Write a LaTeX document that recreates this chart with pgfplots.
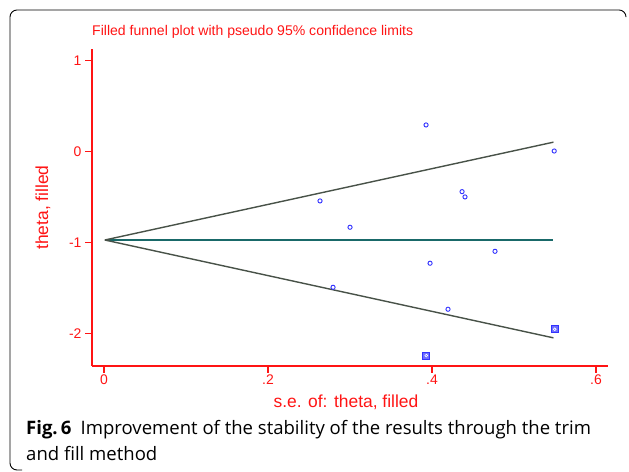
\documentclass[border=0pt]{standalone}
\usepackage{pgfplots}
\pgfplotsset{compat=1.18}
\usepackage{fontspec}
\setmainfont{Liberation Sans}
\newfontfamily\capfont{Open Sans}
\definecolor{sred}{RGB}{255,20,20}
\definecolor{sblue}{RGB}{50,50,255}
\definecolor{sfill}{RGB}{110,110,255}
\definecolor{funnel}{RGB}{72,82,72}
\definecolor{teal2}{RGB}{25,105,105}
\begin{document}
\begin{tikzpicture}[x=1bp,y=1bp]
\useasboundingbox (0,0) rectangle (629,472);
\draw[black, line width=0.9bp, rounded corners=7bp] (22,2) -- (10,2) -- (10,462) -- (626,462) -- (626,455);
\node[anchor=west, inner sep=0, text=sred, font=\fontsize{14.1}{14}\selectfont] at (92,440) {Filled funnel plot with pseudo 95\% confidence limits};
\begin{axis}[
  at={(92bp,106bp)}, anchor=south west,
  scale only axis, width=516bp, height=317bp,
  xmin=-0.01463, xmax=0.6146, ymin=-2.355, ymax=1.125,
  axis x line=bottom, axis y line=left,
  axis line style={-, sred, line width=1.1bp},
  tick align=outside, major tick length=7bp,
  tick style={sred, line width=1.1bp},
  xtick={0,0.2,0.4,0.6}, xticklabels={0,.2,.4,.6},
  ytick={-2,-1,0,1}, yticklabels={-2,-1,0,1},
  ticklabel style={text=sred, font=\fontsize{14}{14}\selectfont},
  xticklabel style={yshift=1.5bp},
  xlabel={s.e. of: theta, filled}, ylabel={theta, filled},
  every axis x label/.style={at={(axis description cs:0.4922,-0.1136)}, anchor=center, text=sred, font=\fontsize{17.5}{17.5}\selectfont},
  every axis y label/.style={at={(axis description cs:-0.0950,0.5)}, rotate=90, anchor=center, text=sred, font=\fontsize{17.5}{17.5}\selectfont},
  clip=false,
]
\addplot[teal2, line width=1.7bp] coordinates {(0.001,-0.972) (0.548,-0.972)};
\addplot[funnel, line width=1.4bp] coordinates {(0.001,-0.972) (0.548,0.102)};
\addplot[funnel, line width=1.4bp] coordinates {(0.001,-0.972) (0.548,-2.046)};
\addplot[only marks, mark=o, mark size=2.1bp, sblue, mark options={line width=0.9bp}] coordinates {
 (0.3927,0.291) (0.549,0.005) (0.2634,-0.543) (0.4366,-0.441) (0.4402,-0.499)
 (0.300,-0.832) (0.4768,-1.096) (0.3976,-1.227) (0.2793,-1.491) (0.4195,-1.732)
};
\addplot[only marks, mark=square*, mark size=3.6bp, mark options={draw=sblue, fill=sfill, line width=0.8bp}] coordinates {
 (0.5496,-1.952) (0.3930,-2.241)
};
\addplot[only marks, mark=o, mark size=1.4bp, mark options={draw=white, line width=0.6bp}] coordinates {
 (0.5496,-1.952) (0.3930,-2.241)
};
\end{axis}
\node[anchor=base west, inner sep=0, font=\capfont\fontsize{18.6}{18.6}\selectfont] at (26,37) {\textbf{Fig.\,6}\hspace{0.5em}Improvement of the stability of the results through the trim};
\node[anchor=base west, inner sep=0, font=\capfont\fontsize{18.6}{18.6}\selectfont] at (26,11) {and fill method};
\end{tikzpicture}
\end{document}
